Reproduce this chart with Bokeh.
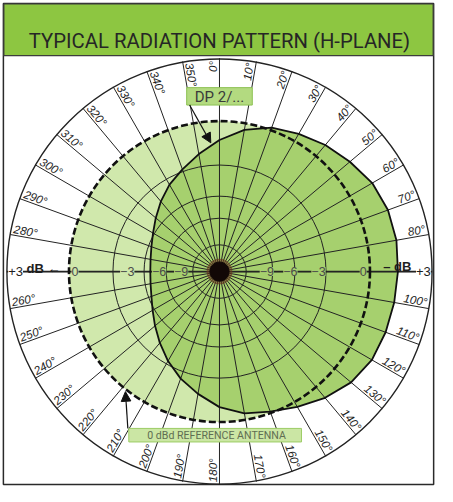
import numpy as np
from bokeh.plotting import figure
from bokeh.models import Range1d, Arrow, NormalHead, ColumnDataSource
from bokeh.core.properties import value, field
from bokeh.embed import file_html
from bokeh.resources import INLINE

# ---------------- data ----------------
TITLE = "TYPICAL RADIATION PATTERN (H-PLANE)"
ANGLES_DEG = [0, 10, 20, 30, 40, 50, 60, 70, 80, 90, 100, 110,
              120, 130, 140, 150, 160, 170, 180, 190, 200, 210, 220, 230,
              240, 250, 260, 270, 280, 290, 300, 310, 320, 330, 340, 350]
DP_GAIN_DB = [-1.2, -0.42, 0.12, 0.45, 0.78, 1.07, 1.38, 1.52, 1.54, 1.48, 1.43, 1.4,
              1.36, 1.15, 0.76, 0.3, -0.12, -0.42, -0.94, -1.7, -2.45, -3.3, -4.2, -5.05,
              -5.8, -6.35, -6.65, -6.75, -6.65, -6.35, -5.85, -5.15, -4.35, -3.55, -2.85, -2.05]
REFERENCE_DBD = 0.0
RING_DB = [-3, -6, -9, -15]
OUTER_DB = 3
DEGREE_LABELS = [f"{a}°" for a in ANGLES_DEG]
AXIS_TICK_DB = [0, -3, -6, -9]
AXIS_TICK_LABELS = ["0", "−3", "−6", "−9"]
DP_LABEL = "DP 2/..."
REF_LABEL = "0 dBd REFERENCE ANTENNA"

# ---------------- layout helpers ----------------
W, H = 437, 486
RW, RH = 453, 502
CX, CY, R0 = 227.0, 280.0, 156.0
S = W / RW


def X(v):
    return (v - CX) / R0


def Y(v):
    return (CY - v) / R0


def fs(v):
    return f"{v * S:.1f}px"


def rad(db):
    return 10 ** (np.asarray(db, dtype=float) / 20.0)


LIGHT = "#d0e8ac"
DARK = "#a6d06e"
INK = "#232323"

p = figure(width=W, height=H, x_range=Range1d(X(0), X(RW)), y_range=Range1d(Y(RH), Y(0)),
           output_backend="svg", toolbar_location=None, min_border=0)
p.axis.visible = False
p.grid.visible = False
p.outline_line_color = None
p.background_fill_color = "white"
p.border_fill_color = "white"

# frame + banner
p.quad(left=[X(3)], right=[X(449)], top=[Y(3)], bottom=[Y(500)],
       fill_color="white", line_color="#2a2a2a", line_width=1.5)
p.quad(left=[X(3.5)], right=[X(448.5)], top=[Y(3.5)], bottom=[Y(57)],
       fill_color="#8dc641", line_color="#3c3c3c", line_width=1.2)
p.text(x=[X(227)], y=[Y(42)], text=[TITLE], text_align="center", text_baseline="alphabetic",
       text_font=value("Roboto"), text_font_size=fs(21), text_color="#262626")

R_OUT = float(rad(OUTER_DB))
R_REF = float(rad(REFERENCE_DBD))

# reference disc (0 dBd) fill
p.circle(x=[0], y=[0], radius=R_REF, fill_color=LIGHT, line_color=None)

# DP pattern fill
th = np.radians(ANGLES_DEG)
r_dp = rad(DP_GAIN_DB)
dp_x = r_dp * np.sin(th)
dp_y = r_dp * np.cos(th)
p.patch(x=dp_x, y=dp_y, fill_color=DARK, line_color=None)

# rings
p.circle(x=[0] * len(RING_DB), y=[0] * len(RING_DB), radius=rad(RING_DB),
         fill_color=None, line_color=INK, line_width=1)

# spokes
p.segment(x0=[0] * len(th), y0=[0] * len(th), x1=R_OUT * np.sin(th), y1=R_OUT * np.cos(th),
          line_color=INK, line_width=1)
p.segment(x0=[-R_OUT], y0=[0], x1=[R_OUT], y1=[0], line_color=INK, line_width=1.6)

# outer circle
p.circle(x=[0], y=[0], radius=R_OUT, fill_color=None, line_color=INK, line_width=1.4)

# reference antenna (dashed)
p.circle(x=[0], y=[0], radius=R_REF, fill_color=None, line_color="#111111",
         line_width=2.6, line_dash="7 3")

# DP pattern outline
p.patch(x=dp_x, y=dp_y, fill_color=None, line_color="#111111", line_width=1.8)

# centre blot
p.scatter(x=[0], y=[0], size=26 * S, color="#6a3a20", alpha=0.55)
p.scatter(x=[0], y=[0], size=20 * S, color="#120806")

# degree labels (90 and 270 carry the dB scale instead)
R_LAB = 1.395
right_idx = [i for i, a in enumerate(ANGLES_DEG) if a < 180 and a != 90]
left_idx = [i for i, a in enumerate(ANGLES_DEG) if a >= 180 and a != 270]
src_r = ColumnDataSource(dict(
    x=[R_LAB * np.sin(th[i]) for i in right_idx],
    y=[R_LAB * np.cos(th[i]) for i in right_idx],
    t=[DEGREE_LABELS[i] for i in right_idx],
    a=[np.radians(90 - ANGLES_DEG[i]) for i in right_idx]))
src_l = ColumnDataSource(dict(
    x=[R_LAB * np.sin(th[i]) for i in left_idx],
    y=[R_LAB * np.cos(th[i]) for i in left_idx],
    t=[DEGREE_LABELS[i] for i in left_idx],
    a=[np.radians(270 - ANGLES_DEG[i]) for i in left_idx]))
for src, al in ((src_r, "right"), (src_l, "left")):
    p.text(x="x", y="y", text="t", angle="a", source=src, text_align=al, text_baseline="bottom",
           text_font=value("Liberation Sans"), text_font_style="italic",
           text_font_size=fs(12), text_color="#1e1e1e")

# dB tick labels on horizontal axis
r_tick = rad(AXIS_TICK_DB)
left_inset = [0.04, 0.095, 0.10, 0.10]
right_inset = [0.045, 0.05, 0.03, 0.04]
r_edge = float(rad(DP_GAIN_DB[ANGLES_DEG.index(270)]))
lab_l = ColumnDataSource(dict(
    x=[-(rr - d) for rr, d in zip(r_tick, left_inset)], y=[0] * len(r_tick), t=AXIS_TICK_LABELS,
    bg=[LIGHT if (rr - d) > r_edge else DARK for rr, d in zip(r_tick, left_inset)]))
lab_r = ColumnDataSource(dict(
    x=[(rr - d) for rr, d in zip(r_tick, right_inset)], y=[0] * len(r_tick), t=AXIS_TICK_LABELS,
    bg=[DARK] * len(r_tick)))
for src in (lab_l, lab_r):
    p.text(x="x", y="y", text="t", source=src, text_align="center", text_baseline="middle",
           background_fill_color=field("bg"),
           text_font=value("Liberation Sans"), text_font_size=fs(13), text_color="#4a4a4a")

# +3 labels and dB markers
p.text(x=[-1.355, 1.355], y=[0, 0], text=["+3", "+3"], text_align="center",
       text_baseline="middle", background_fill_color="white",
       text_font=value("Liberation Sans"), text_font_size=fs(13.5), text_color="#1e1e1e")
p.text(x=[X(27)], y=[Y(277)], text=["dB ←"], text_align="left", text_baseline="alphabetic",
       text_font=value("Liberation Sans"), text_font_style="bold",
       text_font_size=fs(13.5), text_color="#1e1e1e")
p.text(x=[X(426)], y=[Y(275)], text=["– dB"], text_align="right", text_baseline="alphabetic",
       text_font=value("Liberation Sans"), text_font_style="bold",
       text_font_size=fs(13.5), text_color="#1e1e1e")

# DP label box + arrow
p.quad(left=[X(193)], right=[X(261)], top=[Y(90)], bottom=[Y(108)],
       fill_color="#b3da80", line_color="#8cc152", line_width=1)
p.text(x=[X(227)], y=[Y(99.5)], text=[DP_LABEL], text_align="center", text_baseline="middle",
       text_font=value("Roboto"), text_font_size=fs(15.5), text_color="#3a3a3a")
p.add_layout(Arrow(end=NormalHead(size=10 * S, fill_color="#111111", line_color="#111111"),
                   x_start=X(196), y_start=Y(108), x_end=X(218), y_end=Y(147),
                   line_color="#111111", line_width=1.2))

# reference label box + arrow
p.quad(left=[X(133)], right=[X(312)], top=[Y(442)], bottom=[Y(456)],
       fill_color="#cbe6a4", line_color="#9ccc65", line_width=1)
p.text(x=[X(224)], y=[Y(449.5)], text=[REF_LABEL], text_align="center", text_baseline="middle",
       text_font=value("Roboto"), text_font_size=fs(11), text_color="#5f6d52")
p.add_layout(Arrow(end=NormalHead(size=10 * S, fill_color="#111111", line_color="#111111"),
                   x_start=X(132), y_start=Y(442), x_end=X(129.5), y_end=Y(404),
                   line_color="#111111", line_width=1.2))

open("out.html", "w").write(file_html(p, INLINE))
